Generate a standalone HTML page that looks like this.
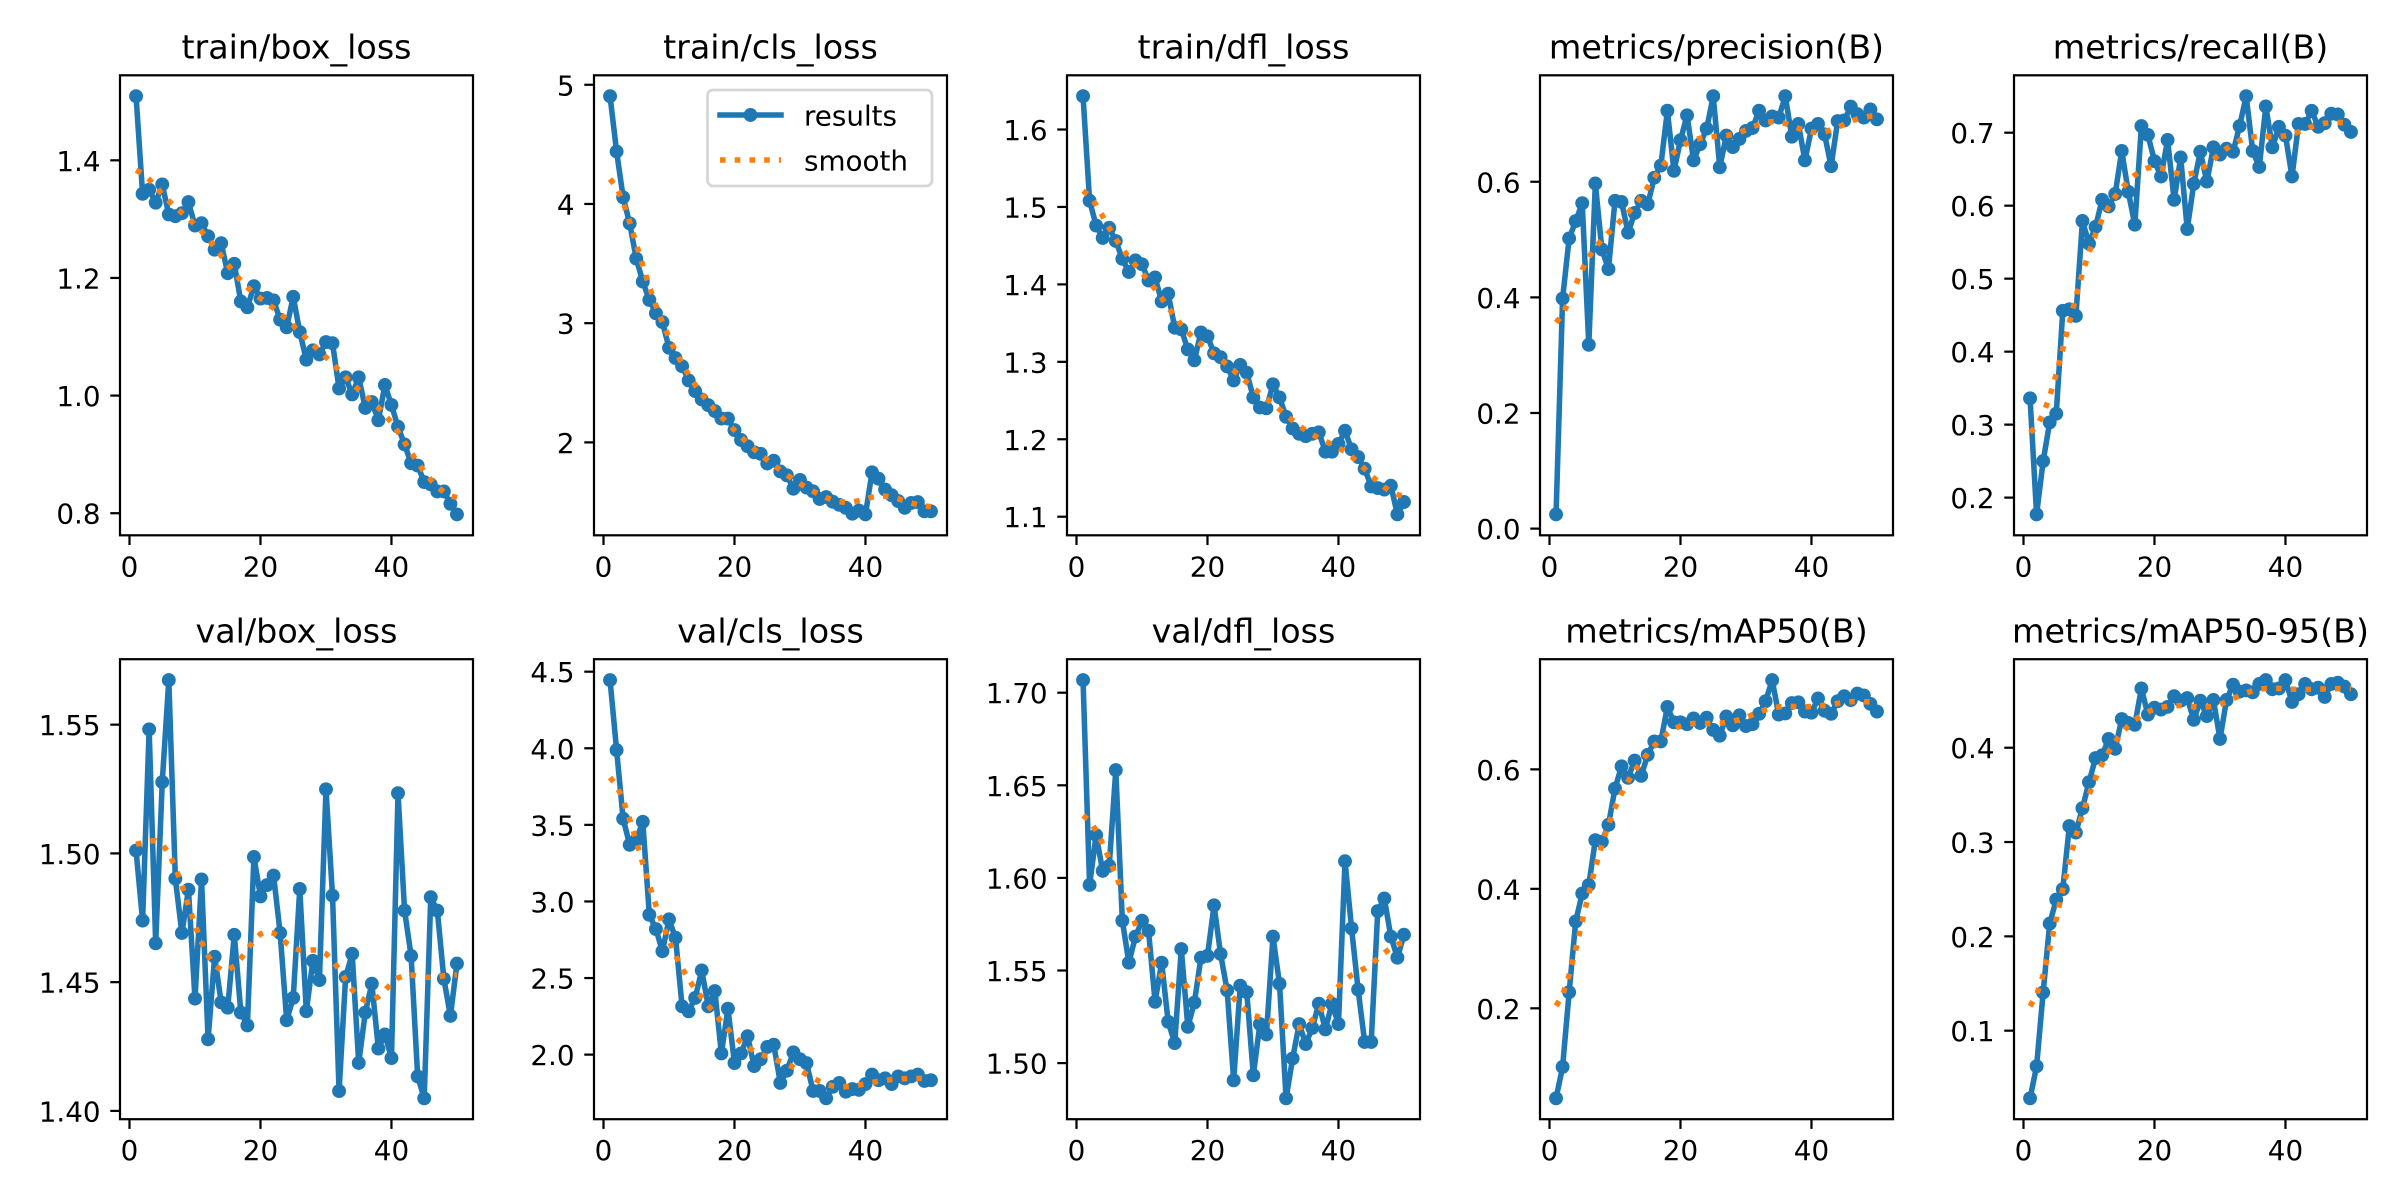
<!DOCTYPE html>
<html>
<head>
<meta charset="utf-8">
<style>
html,body{margin:0;padding:0;background:#fff;}
svg{display:block;}
text{font-family:"DejaVu Sans","Liberation Sans",sans-serif;fill:#000;}
.yt,.xt{font-size:27.78px;}
.yt{text-anchor:end;}
.xt{text-anchor:middle;}
.ttl{font-size:33.33px;text-anchor:middle;}
.lg{font-size:27.78px;}
</style>
</head>
<body>
<svg id="fig" width="2400" height="1200" viewBox="0 0 2400 1200">
<rect x="0" y="0" width="2400" height="1200" fill="#ffffff"/>
<g id="dyn"></g>

<g id="p0"><text class="ttl">train/box_loss</text><text class="yt">0.8</text><text class="yt">1.0</text><text class="yt">1.2</text><text class="yt">1.4</text><text class="xt">0</text><text class="xt">20</text><text class="xt">40</text></g>
<g id="p1"><text class="ttl">train/cls_loss</text><text class="yt">2</text><text class="yt">3</text><text class="yt">4</text><text class="yt">5</text><text class="xt">0</text><text class="xt">20</text><text class="xt">40</text></g>
<g id="p2"><text class="ttl">train/dfl_loss</text><text class="yt">1.1</text><text class="yt">1.2</text><text class="yt">1.3</text><text class="yt">1.4</text><text class="yt">1.5</text><text class="yt">1.6</text><text class="xt">0</text><text class="xt">20</text><text class="xt">40</text></g>
<g id="p3"><text class="ttl">metrics/precision(B)</text><text class="yt">0.0</text><text class="yt">0.2</text><text class="yt">0.4</text><text class="yt">0.6</text><text class="xt">0</text><text class="xt">20</text><text class="xt">40</text></g>
<g id="p4"><text class="ttl">metrics/recall(B)</text><text class="yt">0.2</text><text class="yt">0.3</text><text class="yt">0.4</text><text class="yt">0.5</text><text class="yt">0.6</text><text class="yt">0.7</text><text class="xt">0</text><text class="xt">20</text><text class="xt">40</text></g>
<g id="p5"><text class="ttl">val/box_loss</text><text class="yt">1.40</text><text class="yt">1.45</text><text class="yt">1.50</text><text class="yt">1.55</text><text class="xt">0</text><text class="xt">20</text><text class="xt">40</text></g>
<g id="p6"><text class="ttl">val/cls_loss</text><text class="yt">2.0</text><text class="yt">2.5</text><text class="yt">3.0</text><text class="yt">3.5</text><text class="yt">4.0</text><text class="yt">4.5</text><text class="xt">0</text><text class="xt">20</text><text class="xt">40</text></g>
<g id="p7"><text class="ttl">val/dfl_loss</text><text class="yt">1.50</text><text class="yt">1.55</text><text class="yt">1.60</text><text class="yt">1.65</text><text class="yt">1.70</text><text class="xt">0</text><text class="xt">20</text><text class="xt">40</text></g>
<g id="p8"><text class="ttl">metrics/mAP50(B)</text><text class="yt">0.2</text><text class="yt">0.4</text><text class="yt">0.6</text><text class="xt">0</text><text class="xt">20</text><text class="xt">40</text></g>
<g id="p9"><text class="ttl">metrics/mAP50-95(B)</text><text class="yt">0.1</text><text class="yt">0.2</text><text class="yt">0.3</text><text class="yt">0.4</text><text class="xt">0</text><text class="xt">20</text><text class="xt">40</text></g>

<g id="legend">
  <rect x="707.5" y="90" width="224.5" height="96" rx="5.6" ry="5.6" fill="#ffffff" fill-opacity="0.8" stroke="#d6d6d6" stroke-width="2.78"/>
  <line x1="720" y1="115" x2="781" y2="115" stroke="#1f77b4" stroke-width="5.56" stroke-linecap="square"/>
  <circle cx="750.5" cy="115" r="6.95" fill="#1f77b4"/>
  <line x1="720" y1="160" x2="781" y2="160" stroke="#ff7f0e" stroke-width="5.56" stroke-dasharray="5.56 9.17"/>
  <text class="lg" x="804" y="125.5">results</text>
  <text class="lg" x="804" y="170.5">smooth</text>
</g>
</svg>

<script>
(function(){
var D=[
[1.509,1.343,1.350,1.328,1.359,1.308,1.305,1.310,1.329,1.289,1.293,1.271,1.248,1.259,1.208,1.224,1.160,1.150,1.186,1.165,1.166,1.162,1.129,1.116,1.168,1.108,1.061,1.077,1.070,1.091,1.089,1.012,1.031,1.002,1.031,0.979,0.989,0.958,1.018,0.984,0.947,0.917,0.885,0.881,0.853,0.849,0.837,0.837,0.816,0.798],
[4.904,4.44,4.056,3.837,3.542,3.349,3.195,3.083,3.009,2.793,2.707,2.639,2.520,2.430,2.360,2.312,2.263,2.2,2.2,2.103,2.02,1.968,1.917,1.904,1.823,1.846,1.756,1.724,1.611,1.685,1.621,1.589,1.525,1.541,1.502,1.476,1.451,1.402,1.428,1.396,1.749,1.695,1.605,1.557,1.508,1.451,1.492,1.499,1.422,1.422],
[1.643,1.508,1.476,1.460,1.473,1.456,1.433,1.416,1.431,1.426,1.405,1.409,1.378,1.388,1.344,1.342,1.316,1.302,1.338,1.333,1.311,1.306,1.294,1.276,1.296,1.286,1.254,1.241,1.240,1.271,1.254,1.229,1.214,1.207,1.204,1.207,1.209,1.184,1.184,1.194,1.211,1.187,1.177,1.162,1.139,1.137,1.135,1.140,1.103,1.119],
[0.0246,0.398,0.502,0.532,0.563,0.318,0.597,0.483,0.449,0.567,0.565,0.512,0.546,0.567,0.561,0.607,0.628,0.723,0.619,0.672,0.715,0.637,0.665,0.692,0.748,0.625,0.680,0.660,0.674,0.688,0.693,0.723,0.706,0.713,0.711,0.748,0.678,0.700,0.637,0.692,0.700,0.682,0.627,0.705,0.706,0.730,0.717,0.711,0.725,0.708],
[0.336,0.177,0.250,0.303,0.315,0.456,0.458,0.449,0.579,0.548,0.571,0.608,0.599,0.616,0.675,0.619,0.574,0.709,0.697,0.661,0.640,0.690,0.608,0.666,0.568,0.630,0.674,0.633,0.680,0.670,0.678,0.674,0.709,0.750,0.675,0.653,0.736,0.680,0.708,0.696,0.640,0.712,0.712,0.730,0.708,0.713,0.726,0.725,0.711,0.701],
[1.5011,1.4739,1.5482,1.4651,1.5277,1.5673,1.4902,1.4691,1.4859,1.4436,1.4899,1.4278,1.4599,1.4421,1.4401,1.4684,1.4382,1.4332,1.4986,1.4833,1.4877,1.4914,1.4691,1.4352,1.4439,1.4862,1.4387,1.4583,1.4508,1.5249,1.4836,1.4077,1.4520,1.4610,1.4186,1.4382,1.4494,1.4242,1.4297,1.4205,1.5234,1.4778,1.4602,1.4134,1.4049,1.4830,1.4778,1.4513,1.4369,1.4572],
[4.445,3.988,3.54,3.37,3.40,3.52,2.913,2.82,2.675,2.883,2.763,2.315,2.283,2.37,2.55,2.315,2.415,2.008,2.30,1.945,2.008,2.12,1.925,1.97,2.05,2.065,1.815,1.895,2.015,1.97,1.945,1.763,1.763,1.715,1.79,1.815,1.758,1.775,1.77,1.808,1.87,1.833,1.845,1.808,1.858,1.845,1.858,1.87,1.828,1.833],
[1.7068,1.5962,1.6231,1.6038,1.6065,1.6582,1.5769,1.5542,1.5683,1.5769,1.5714,1.5331,1.5542,1.5223,1.5108,1.5616,1.5196,1.5327,1.5569,1.5579,1.5852,1.5589,1.5393,1.4907,1.5418,1.5383,1.4934,1.5211,1.5155,1.5683,1.5428,1.4810,1.5025,1.5211,1.5103,1.5190,1.5321,1.5182,1.5321,1.5211,1.6090,1.5728,1.5397,1.5114,1.5114,1.5821,1.5889,1.5683,1.5569,1.5693],
[0.0494,0.1019,0.2269,0.3455,0.3923,0.4064,0.4814,0.4788,0.5071,0.5679,0.6051,0.5859,0.6147,0.5891,0.6244,0.6468,0.6468,0.7045,0.6788,0.6788,0.6756,0.6853,0.6776,0.6865,0.6660,0.6564,0.6885,0.6737,0.6904,0.6724,0.6756,0.6929,0.7141,0.7494,0.6917,0.6936,0.7109,0.7122,0.6968,0.6949,0.7186,0.6981,0.6929,0.7141,0.7224,0.7160,0.7269,0.7237,0.7096,0.6968],
[0.0283,0.0623,0.1405,0.2135,0.2390,0.2500,0.3169,0.3100,0.3359,0.3635,0.3890,0.3919,0.4093,0.3988,0.4304,0.4263,0.4243,0.4628,0.4352,0.4425,0.4405,0.4433,0.4547,0.4498,0.4527,0.4296,0.4498,0.4336,0.4506,0.4093,0.4506,0.4668,0.4595,0.4608,0.4587,0.4676,0.4717,0.4620,0.4628,0.4717,0.4486,0.4567,0.4676,0.4620,0.4636,0.4539,0.4676,0.4689,0.4648,0.4567]
];
var LX=[120,594,1067,1540,2014], W=353;
var TY=[75.3,659.2], H=460;

function gauss(y){
  var s=3, r=12, w=[], sum=0, k;
  for(k=-r;k<=r;k++){var v=Math.exp(-0.5*k*k/(s*s)); w.push(v); sum+=v;}
  var n=y.length, out=[];
  for(var i=0;i<n;i++){
    var a=0;
    for(k=-r;k<=r;k++){
      var j=i+k;
      while(j<0||j>=n){ if(j<0) j=-j-1; if(j>=n) j=2*n-j-1; }
      a+=w[k+r]*y[j];
    }
    out.push(a/sum);
  }
  return out;
}

var s='', ticks='', frames='';
for(var i=0;i<10;i++){
  var c=i%5, r=Math.floor(i/5);
  var L=LX[c], T=TY[r], B=T+H;
  var y=D[i], sm=gauss(y);
  var mn=Math.min.apply(null,y.concat(sm)), mx=Math.max.apply(null,y.concat(sm));
  var rg=mx-mn, lo=mn-0.05*rg, hi=mx+0.05*rg;
  var X=(function(L){return function(e){return L+(e+1.45)/53.9*W;};})(L);
  var Y=(function(T,lo,hi){return function(v){return T+(hi-v)/(hi-lo)*H;};})(T,lo,hi);
  s+='<clipPath id="c'+i+'"><rect x="'+L+'" y="'+T+'" width="'+W+'" height="'+H+'"/></clipPath>';
  var p='', q='', m='';
  for(var k=0;k<y.length;k++){
    var xx=X(k+1).toFixed(2), yy=Y(y[k]).toFixed(2);
    p+=(k?'L':'M')+xx+' '+yy;
    m+='<circle cx="'+xx+'" cy="'+yy+'" r="6.95"/>';
    q+=(k?'L':'M')+xx+' '+Y(sm[k]).toFixed(2);
  }
  s+='<g clip-path="url(#c'+i+')">'+
     '<path d="'+p+'" fill="none" stroke="#1f77b4" stroke-width="5.56" stroke-linejoin="round" stroke-linecap="square"/>'+
     '<g fill="#1f77b4">'+m+'</g>'+
     '<path d="'+q+'" fill="none" stroke="#ff7f0e" stroke-width="5.56" stroke-dasharray="5.56 9.17" stroke-linejoin="round"/>'+
     '</g>';
  frames+='<rect x="'+L+'" y="'+T+'" width="'+W+'" height="'+H+'" fill="none" stroke="#000" stroke-width="2.22"/>';
  var g=document.getElementById('p'+i);
  var yts=g.querySelectorAll('.yt');
  for(var a=0;a<yts.length;a++){
    var t=yts[a], v=parseFloat(t.textContent), py=Y(v);
    t.setAttribute('x',(L-19.44).toFixed(2));
    t.setAttribute('y',(py+10.5).toFixed(2));
    ticks+='<line x1="'+(L-9.72).toFixed(2)+'" x2="'+L+'" y1="'+py.toFixed(2)+'" y2="'+py.toFixed(2)+'"/>';
  }
  var xts=g.querySelectorAll('.xt');
  for(var b=0;b<xts.length;b++){
    var t2=xts[b], e=parseFloat(t2.textContent), px=X(e);
    t2.setAttribute('x',px.toFixed(2));
    t2.setAttribute('y',(B+41).toFixed(2));
    ticks+='<line x1="'+px.toFixed(2)+'" x2="'+px.toFixed(2)+'" y1="'+B.toFixed(2)+'" y2="'+(B+9.72).toFixed(2)+'"/>';
  }
  var tt=g.querySelector('.ttl');
  tt.setAttribute('x',(L+W/2).toFixed(2));
  tt.setAttribute('y',(T-16.67).toFixed(2));
}
s+=frames+'<g stroke="#000" stroke-width="2.22">'+ticks+'</g>';
document.getElementById('dyn').innerHTML=s;
})();
</script>
</body>
</html>
